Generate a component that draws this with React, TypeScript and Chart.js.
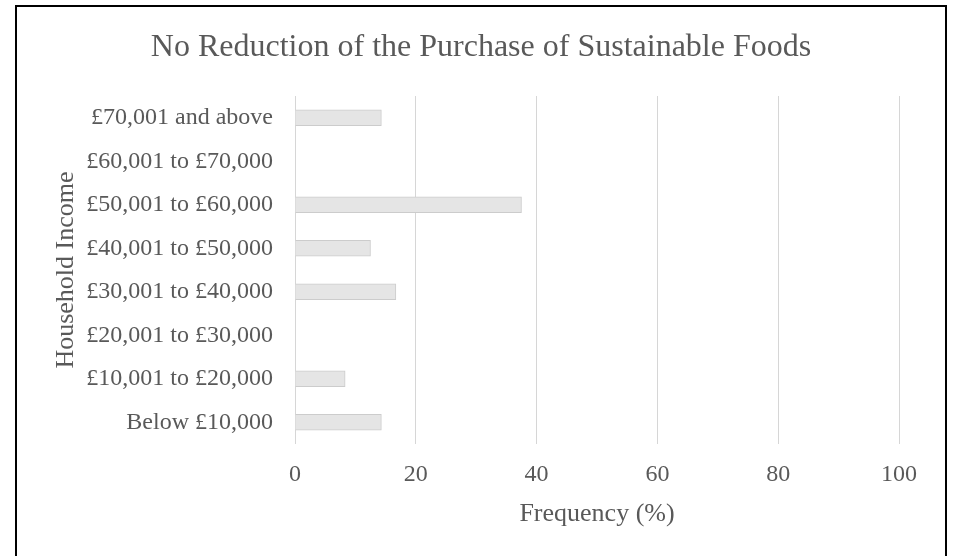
import React, { useEffect, useRef } from "react";
import { Chart, registerables } from "chart.js";

Chart.register(...registerables);

const incomeBands = [
  "£70,001 and above",
  "£60,001 to £70,000",
  "£50,001 to £60,000",
  "£40,001 to £50,000",
  "£30,001 to £40,000",
  "£20,001 to £30,000",
  "£10,001 to £20,000",
  "Below £10,000",
];

const frequencyPct = [14.3, 0, 37.5, 12.5, 16.7, 0, 8.3, 14.3];

const chartTitle = "No Reduction of the Purchase of Sustainable Foods";
const xTitle = "Frequency (%)";
const yTitle = "Household Income";

const FONT = "'Liberation Serif', 'Times New Roman', serif";
const TEXT = "#595959";

export default function App() {
  const canvasRef = useRef<HTMLCanvasElement | null>(null);

  useEffect(() => {
    const canvas = canvasRef.current;
    if (!canvas) return;
    const chart = new Chart(canvas, {
      type: "bar",
      data: {
        labels: incomeBands,
        datasets: [
          {
            data: frequencyPct,
            backgroundColor: "#e5e5e5",
            borderColor: "#cccccc",
            borderWidth: 1,
            barThickness: 16,
          },
        ],
      },
      options: {
        indexAxis: "y",
        animation: false,
        responsive: false,
        maintainAspectRatio: false,
        layout: { padding: { left: 63, right: 56, top: 0, bottom: 0 } },
        plugins: {
          legend: { display: false },
          tooltip: { enabled: false },
          title: {
            display: true,
            text: chartTitle,
            color: TEXT,
            font: { family: FONT, size: 32, weight: "normal" },
            padding: { top: 28, bottom: 29.6 },
          },
        },
        scales: {
          x: {
            min: 0,
            max: 100,
            ticks: {
              stepSize: 20,
              color: TEXT,
              font: { family: FONT, size: 24 },
              padding: 16,
            },
            grid: { color: "#d6d6d6", lineWidth: 1, drawTicks: false },
            border: { display: false },
            title: {
              display: true,
              text: xTitle,
              color: TEXT,
              font: { family: FONT, size: 26 },
              padding: { top: 4, bottom: 26 },
            },
            afterFit: (scale: any) => {
              scale.height = 112;
            },
          },
          y: {
            ticks: {
              color: TEXT,
              font: { family: FONT, size: 24 },
              padding: 22,
              autoSkip: false,
            },
            grid: { display: false, drawTicks: false },
            border: { display: false },
            title: {
              display: true,
              text: yTitle,
              color: TEXT,
              font: { family: FONT, size: 26 },
              padding: { top: -12.6, bottom: 0 },
            },
            afterFit: (scale: any) => {
              scale.width = 232;
            },
          },
        },
      },
    });
    return () => chart.destroy();
  }, []);

  return (
    <div
      style={{
        position: "fixed",
        left: 0,
        top: 0,
        width: 955,
        height: 556,
        overflow: "hidden",
        background: "#fff",
      }}
    >
      <canvas ref={canvasRef} width={955} height={556} style={{ position: "absolute", left: 0, top: 0 }} />
      <div
        style={{
          position: "absolute",
          left: 15,
          top: 5,
          width: 928,
          height: 600,
          border: "2px solid #000",
          pointerEvents: "none",
        }}
      />
    </div>
  );
}
